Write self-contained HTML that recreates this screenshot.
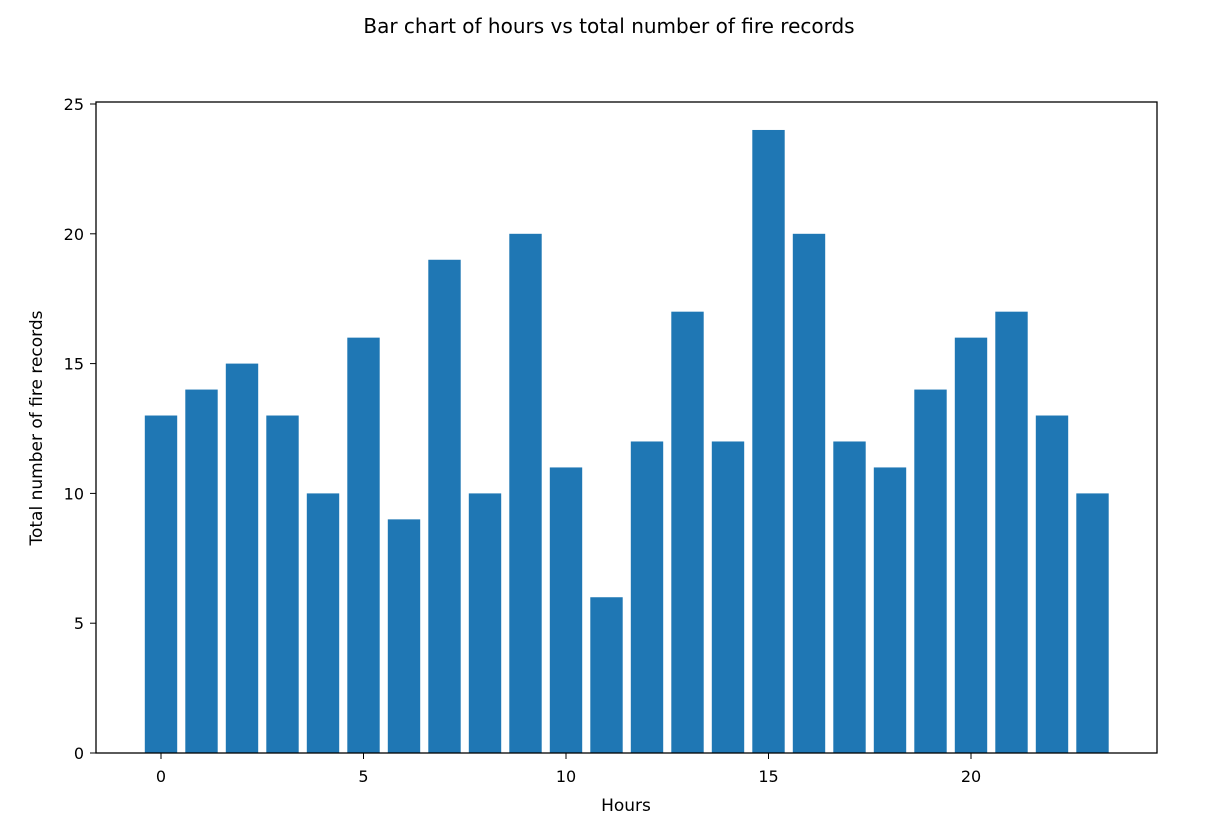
<!DOCTYPE html>
<html><head><meta charset="utf-8"><style>
html,body{margin:0;padding:0;background:#fff;}
svg text{font-family:"DejaVu Sans","Liberation Sans",sans-serif;fill:#000;}
</style></head><body>
<svg id="chart" width="1218" height="832" xmlns="http://www.w3.org/2000/svg">
<text x="609" y="33" font-size="20" text-anchor="middle">Bar chart of hours vs total number of fire records</text>
<g id="bars"></g>
<g id="xticks"></g>
<g id="yticks"></g>
<rect x="96" y="102" width="1061" height="651" fill="none" stroke="#000" stroke-width="1.3"/>
<text x="626" y="811" font-size="17" text-anchor="middle">Hours</text>
<text transform="translate(42,428) rotate(-90)" font-size="17" text-anchor="middle">Total number of fire records</text>
</svg>
<script>
const hours = [0,1,2,3,4,5,6,7,8,9,10,11,12,13,14,15,16,17,18,19,20,21,22,23];
const counts = [13,14,15,13,10,16,9,19,10,20,11,6,12,17,12,24,20,12,11,14,16,17,13,10];
const xTickValues = [0,5,10,15,20];
const yTickValues = [0,5,10,15,20,25];
const NS = "http://www.w3.org/2000/svg";
const xs = v => 161 + v * 40.5;
const ys = v => 753 - v * 25.96;
const bw = 0.8 * 40.5;
const bars = document.getElementById('bars');
hours.forEach((h, i) => {
  const r = document.createElementNS(NS, 'rect');
  r.setAttribute('x', xs(h) - bw / 2);
  r.setAttribute('y', ys(counts[i]));
  r.setAttribute('width', bw);
  r.setAttribute('height', ys(0) - ys(counts[i]));
  r.setAttribute('fill', '#1f77b4');
  
  
  bars.appendChild(r);
});
const xg = document.getElementById('xticks');
xTickValues.forEach(v => {
  const l = document.createElementNS(NS, 'line');
  l.setAttribute('x1', xs(v)); l.setAttribute('x2', xs(v));
  l.setAttribute('y1', 753); l.setAttribute('y2', 759);
  l.setAttribute('stroke', '#000');
  
  
  xg.appendChild(l);
  const t = document.createElementNS(NS, 'text');
  t.setAttribute('x', xs(v)); t.setAttribute('y', 782);
  t.setAttribute('font-size', '16'); t.setAttribute('text-anchor', 'middle');
  t.textContent = v;
  
  
  xg.appendChild(t);
});
const yg = document.getElementById('yticks');
yTickValues.forEach(v => {
  const l = document.createElementNS(NS, 'line');
  l.setAttribute('x1', 90); l.setAttribute('x2', 96);
  l.setAttribute('y1', ys(v)); l.setAttribute('y2', ys(v));
  l.setAttribute('stroke', '#000');
  
  
  yg.appendChild(l);
  const t = document.createElementNS(NS, 'text');
  t.setAttribute('x', 84); t.setAttribute('y', ys(v) + 6);
  t.setAttribute('font-size', '16'); t.setAttribute('text-anchor', 'end');
  t.textContent = v;
  
  
  yg.appendChild(t);
});
</script>
</body></html>
